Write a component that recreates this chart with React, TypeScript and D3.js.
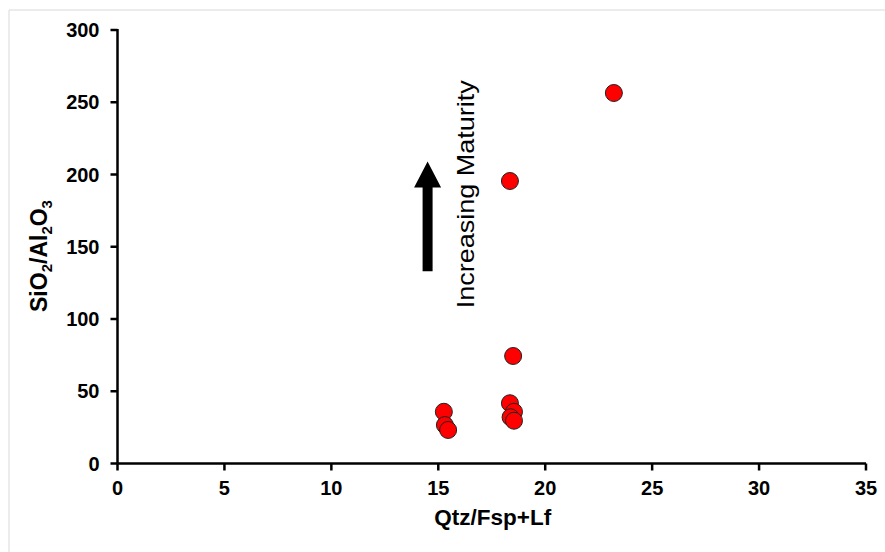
import React from "react";
import * as d3 from "d3";

const qtzFspLf = [23.21, 18.35, 18.5, 15.26, 15.31, 15.46, 18.35, 18.54, 18.38, 18.54];
const sio2Al2o3 = [256.4, 195.5, 74.4, 35.8, 26.6, 23.2, 41.7, 35.8, 32.0, 29.6];
const xTicks = [0, 5, 10, 15, 20, 25, 30, 35];
const yTicks = [0, 50, 100, 150, 200, 250, 300];
const arrowX = 14.5;
const arrowFrom = 133;
const arrowTo = 209;
const annotation = "Increasing Maturity";
const annotationX = 16.3;
const annotationY = 187;

const W = 885;
const H = 552;
const left = 117.5;
const right = 866;
const top = 30;
const bottom = 463.5;

export default function App() {
  const x = d3.scaleLinear().domain([0, 35]).range([left, right]);
  const y = d3.scaleLinear().domain([0, 300]).range([bottom, top]);
  const font = "'Liberation Sans', Arial, sans-serif";

  const ax = x(arrowX);
  const yb = y(arrowFrom);
  const yt = y(arrowTo);
  const headH = 26;
  const shaftW = 10;
  const headW = 27;
  const arrowPath = [
    [ax - shaftW / 2, yb],
    [ax - shaftW / 2, yt + headH],
    [ax - headW / 2, yt + headH],
    [ax, yt],
    [ax + headW / 2, yt + headH],
    [ax + shaftW / 2, yt + headH],
    [ax + shaftW / 2, yb],
  ];

  return (
    <svg width={W} height={H} style={{ position: "absolute", left: 0, top: 0, background: "#fff" }}>
      <line x1={9} y1={10} x2={W} y2={10} stroke="#d9d9d9" strokeWidth={1} />
      <line x1={9} y1={10} x2={9} y2={H} stroke="#d9d9d9" strokeWidth={1} />

      {/* axes */}
      <line x1={left} y1={top - 1} x2={left} y2={bottom} stroke="#000" strokeWidth={2.5} />
      <line x1={left} y1={bottom} x2={right} y2={bottom} stroke="#000" strokeWidth={2.5} />
      {yTicks.map((t) => (
        <g key={"y" + t}>
          <line x1={left - 7} x2={left} y1={y(t)} y2={y(t)} stroke="#000" strokeWidth={2.5} />
          <text x={left - 18} y={y(t)} dy="0.35em" textAnchor="end" fontFamily={font} fontWeight="bold" fontSize={20} fill="#000">
            {t}
          </text>
        </g>
      ))}
      {xTicks.map((t) => (
        <g key={"x" + t}>
          <line x1={x(t)} x2={x(t)} y1={bottom} y2={bottom + 7} stroke="#000" strokeWidth={2.5} />
          <text x={x(t)} y={bottom + 31} textAnchor="middle" fontFamily={font} fontWeight="bold" fontSize={20} fill="#000">
            {t}
          </text>
        </g>
      ))}

      <text x={(left + right) / 2 + 1} y={525} textAnchor="middle" fontFamily={font} fontWeight="bold" fontSize={22.5} fill="#000">
        Qtz/Fsp+Lf
      </text>
      <text
        transform={`translate(47, 256) rotate(-90)`}
        textAnchor="middle"
        fontFamily={font}
        fontWeight="bold"
        fontSize={23}
        fill="#000"
      >
        SiO<tspan fontSize={15} dy={5}>2</tspan>
        <tspan dy={-5}>/Al</tspan>
        <tspan fontSize={15} dy={5}>2</tspan>
        <tspan dy={-5}>O</tspan>
        <tspan fontSize={15} dy={5}>3</tspan>
      </text>

      <path d={d3.line()(arrowPath as [number, number][]) + "Z"} fill="#000" />
      <text
        transform={`translate(${x(annotationX) + 8}, ${y(annotationY) + 1}) rotate(-90)`}
        textAnchor="middle"
        fontFamily={font}
        fontSize={24}
        textLength={228}
        lengthAdjust="spacingAndGlyphs"
        fill="#000"
      >
        {annotation}
      </text>

      {qtzFspLf.map((v, i) => (
        <circle key={i} cx={x(v)} cy={y(sio2Al2o3[i])} r={8.5} fill="#ff0000" stroke="#222" strokeWidth={1} />
      ))}
    </svg>
  );
}
